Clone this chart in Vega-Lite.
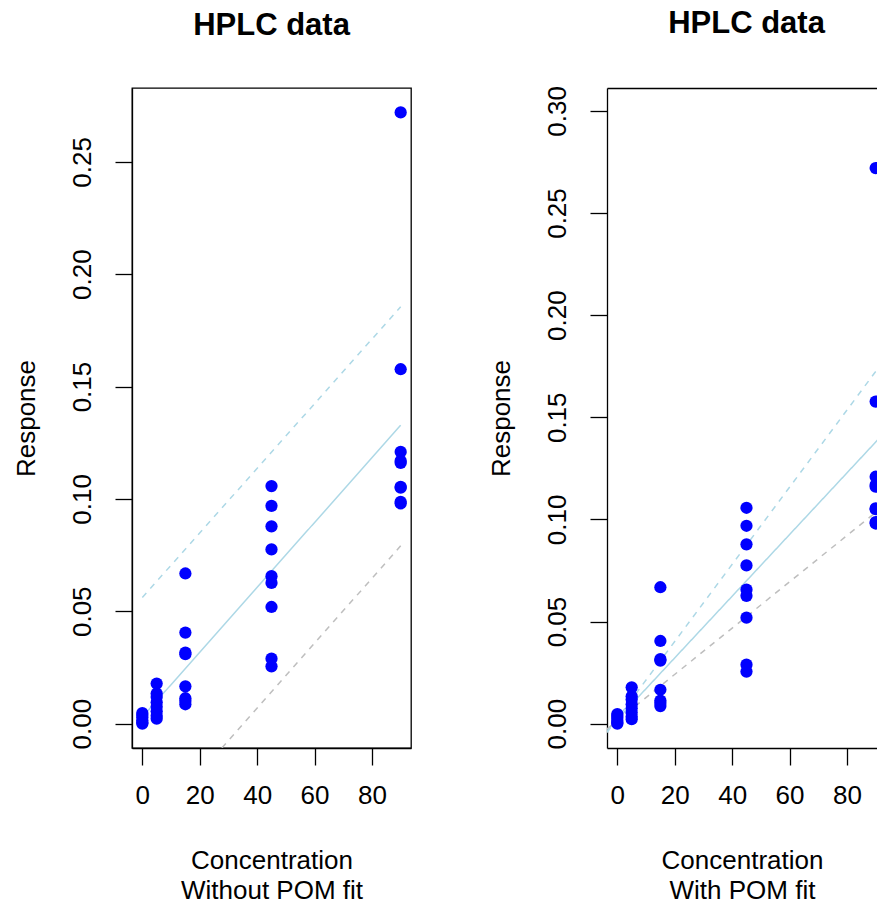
{
  "$schema": "https://vega.github.io/schema/vega-lite/v6.json",
  "background": "white",
  "padding": {"left": 12, "top": 7, "right": 0, "bottom": 0},
  "spacing": 76,
  "config": {
    "font": "Liberation Sans",
    "view": {"stroke": "black", "strokeWidth": 1.3},
    "axis": {
      "labelFont": "Liberation Sans", "titleFont": "Liberation Sans",
      "labelFontSize": 26, "titleFontSize": 26, "titleFontWeight": "normal",
      "labelColor": "black", "titleColor": "black", "domainColor": "black", "tickColor": "black",
      "grid": false, "tickSize": 17, "domainWidth": 1.3, "tickWidth": 1.3,
      "labelFlush": false, "labelOverlap": false
    },
    "title": {"font": "Liberation Sans", "fontSize": 31, "fontWeight": "bold", "color": "black", "frame": "group", "anchor": "middle", "baseline": "alphabetic", "offset": 46}
  },
  "datasets": {
    "points": [
      {"conc": 0, "response": 0.0047}, {"conc": 0, "response": 0.0038}, {"conc": 0, "response": 0.0028},
      {"conc": 0, "response": 0.0015}, {"conc": 0, "response": 0.0005}, {"conc": 0, "response": 0.0},
      {"conc": 5, "response": 0.0178}, {"conc": 5, "response": 0.0134}, {"conc": 5, "response": 0.0118},
      {"conc": 5, "response": 0.0095}, {"conc": 5, "response": 0.0075}, {"conc": 5, "response": 0.0055},
      {"conc": 5, "response": 0.0035}, {"conc": 5, "response": 0.0022},
      {"conc": 15, "response": 0.0668}, {"conc": 15, "response": 0.0405}, {"conc": 15, "response": 0.0316},
      {"conc": 15, "response": 0.0309}, {"conc": 15, "response": 0.0166}, {"conc": 15, "response": 0.0113},
      {"conc": 15, "response": 0.0101}, {"conc": 15, "response": 0.0086},
      {"conc": 45, "response": 0.1057}, {"conc": 45, "response": 0.0969}, {"conc": 45, "response": 0.0878},
      {"conc": 45, "response": 0.0775}, {"conc": 45, "response": 0.0656}, {"conc": 45, "response": 0.0626},
      {"conc": 45, "response": 0.0519}, {"conc": 45, "response": 0.0289}, {"conc": 45, "response": 0.0255},
      {"conc": 90, "response": 0.272}, {"conc": 90, "response": 0.1577}, {"conc": 90, "response": 0.1209},
      {"conc": 90, "response": 0.1169}, {"conc": 90, "response": 0.116}, {"conc": 90, "response": 0.1054},
      {"conc": 90, "response": 0.105}, {"conc": 90, "response": 0.0987}, {"conc": 90, "response": 0.098}
    ],
    "lines_nopom": [
      {"band": "fit", "conc": 0, "response": 0.0029}, {"band": "fit", "conc": 90, "response": 0.1328},
      {"band": "upper", "conc": 0, "response": 0.0561}, {"band": "upper", "conc": 90, "response": 0.1855},
      {"band": "lower", "conc": 0, "response": -0.0508}, {"band": "lower", "conc": 90, "response": 0.0791}
    ],
    "lines_pom": [
      {"band": "fit", "conc": -3.6, "response": -0.0034}, {"band": "fit", "conc": 93.6, "response": 0.1433},
      {"band": "upper", "conc": -3.6, "response": -0.0043}, {"band": "upper", "conc": 93.6, "response": 0.1792},
      {"band": "lower", "conc": -3.6, "response": -0.0026}, {"band": "lower", "conc": 93.6, "response": 0.1075}
    ]
  },
  "hconcat": [
    {
      "title": {"text": "HPLC data"},
      "width": 279, "height": 660,
      "layer": [
        {
          "data": {"name": "lines_nopom"},
          "mark": {"type": "line", "clip": true, "strokeWidth": 1.5},
          "encoding": {
            "x": {"field": "conc", "type": "quantitative", "scale": {"domain": [-3.6, 93.6], "nice": false, "zero": false},
                  "axis": {"values": [0, 20, 40, 60, 80], "title": ["Concentration", "Without POM fit"], "titleLineHeight": 30, "labelPadding": 17, "titlePadding": 39}},
            "y": {"field": "response", "type": "quantitative", "scale": {"domain": [-0.01086, 0.28286], "nice": false, "zero": false},
                  "axis": {"values": [0, 0.05, 0.1, 0.15, 0.2, 0.25], "format": ".2f", "title": "Response", "labelAngle": -90, "labelAlign": "center", "labelBaseline": "alphabetic", "labelPadding": 25, "titlePadding": 30}},
            "detail": {"field": "band"},
            "color": {"field": "band", "scale": {"domain": ["fit", "upper", "lower"], "range": ["#ADD8E6", "#ADD8E6", "#BEBEBE"]}, "legend": null},
            "strokeDash": {"field": "band", "scale": {"domain": ["fit", "upper", "lower"], "range": [[1, 0], [6, 6], [6, 6]]}, "legend": null}
          }
        },
        {
          "data": {"name": "points"},
          "mark": {"type": "circle", "size": 150, "color": "#0000FF", "opacity": 1, "clip": true},
          "encoding": {
            "x": {"field": "conc", "type": "quantitative"},
            "y": {"field": "response", "type": "quantitative"}
          }
        }
      ]
    },
    {
      "title": {"text": "HPLC data", "dx": 4.5},
      "width": 270, "height": 660,
      "view": {"stroke": null},
      "resolve": {"axis": {"x": "independent"}},
      "layer": [
        {
          "data": {"name": "lines_pom"},
          "mark": {"type": "line", "clip": true, "strokeWidth": 1.5},
          "encoding": {
            "x": {"field": "conc", "type": "quantitative", "scale": {"domain": [-3.6, 90.47], "nice": false, "zero": false},
                  "axis": {"orient": "bottom", "values": [0, 20, 40, 60, 80], "title": ["Concentration", "With POM fit"], "titleLineHeight": 30, "labelPadding": 17, "titlePadding": 39}},
            "y": {"field": "response", "type": "quantitative", "scale": {"domain": [-0.0119, 0.3112], "nice": false, "zero": false},
                  "axis": {"values": [0, 0.05, 0.1, 0.15, 0.2, 0.25, 0.3], "format": ".2f", "title": "Response", "labelAngle": -90, "labelAlign": "center", "labelBaseline": "alphabetic", "labelPadding": 25, "titlePadding": 30}},
            "detail": {"field": "band"},
            "color": {"field": "band", "scale": {"domain": ["fit", "upper", "lower"], "range": ["#ADD8E6", "#ADD8E6", "#BEBEBE"]}, "legend": null},
            "strokeDash": {"field": "band", "scale": {"domain": ["fit", "upper", "lower"], "range": [[1, 0], [6, 6], [6, 6]]}, "legend": null}
          }
        },
        {
          "data": {"name": "points"},
          "mark": {"type": "circle", "size": 150, "color": "#0000FF", "opacity": 1, "clip": true},
          "encoding": {
            "x": {"field": "conc", "type": "quantitative", "axis": {"orient": "top", "labels": false, "ticks": false, "title": null, "domain": true}},
            "y": {"field": "response", "type": "quantitative"}
          }
        }
      ]
    }
  ]
}
